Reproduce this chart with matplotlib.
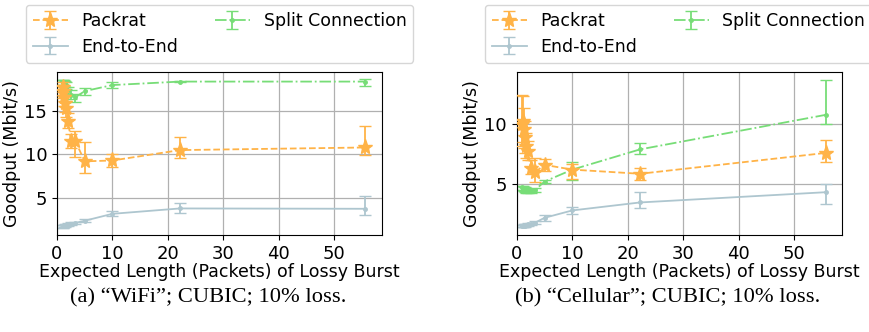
import numpy as np
import matplotlib
matplotlib.use("Agg")
import matplotlib.pyplot as plt

# expected burst length (packets)
burst = [1.0, 1.11, 1.25, 1.43, 1.67, 2.0, 2.5, 3.33, 5.0, 10.0, 22.2, 55.6]

# (a) WiFi
wifi_packrat = [17.8, 17.3, 16.6, 15.9, 15.3, 13.9, 11.6, 11.5, 9.2, 9.3, 10.5, 10.8]
wifi_packrat_lo = [17.2, 16.5, 15.6, 14.9, 14.3, 13.0, 10.7, 9.7, 7.85, 8.5, 9.6, 9.95]
wifi_packrat_hi = [18.3, 18.0, 17.5, 16.9, 16.2, 14.8, 12.4, 12.7, 11.4, 10.1, 12.0, 13.3]
wifi_e2e = [1.7, 1.7, 1.75, 1.8, 1.85, 1.9, 2.0, 2.1, 2.35, 3.15, 3.77, 3.73]
wifi_e2e_lo = [1.55, 1.55, 1.6, 1.65, 1.7, 1.75, 1.85, 1.95, 2.2, 2.85, 3.2, 3.0]
wifi_e2e_hi = [1.85, 1.85, 1.9, 1.95, 2.0, 2.05, 2.15, 2.25, 2.5, 3.46, 4.35, 5.2]
wifi_split = [18.4, 18.4, 18.3, 18.2, 18.0, 17.3, 16.9, 16.6, 17.3, 18.0, 18.4, 18.4]
wifi_split_lo = [18.0, 18.0, 17.9, 17.8, 17.5, 16.9, 16.4, 16.1, 16.9, 17.65, 18.3, 17.9]
wifi_split_hi = [18.6, 18.6, 18.6, 18.5, 18.4, 17.8, 17.4, 17.0, 17.65, 18.4, 18.5, 18.7]

# (b) Cellular
cell_packrat = [10.0, 10.3, 9.6, 8.9, 8.2, 7.8, 6.35, 6.0, 6.6, 6.2, 5.85, 7.6]
cell_packrat_lo = [8.2, 8.5, 8.0, 7.6, 7.2, 7.0, 5.8, 5.2, 6.1, 5.4, 5.3, 6.8]
cell_packrat_hi = [12.5, 12.4, 11.4, 10.3, 9.3, 8.6, 7.0, 7.2, 7.05, 6.7, 6.35, 8.7]
cell_e2e = [1.45, 1.45, 1.5, 1.5, 1.55, 1.6, 1.65, 1.75, 2.15, 2.77, 3.44, 4.3]
cell_e2e_lo = [1.35, 1.35, 1.4, 1.4, 1.45, 1.5, 1.55, 1.65, 1.87, 2.49, 3.0, 3.35]
cell_e2e_hi = [1.55, 1.55, 1.6, 1.6, 1.65, 1.7, 1.75, 1.85, 2.4, 3.05, 4.33, 5.0]
cell_split = [4.7, 4.65, 4.6, 4.5, 4.45, 4.4, 4.4, 4.5, 5.2, 6.2, 7.9, 10.8]
cell_split_lo = [4.5, 4.45, 4.4, 4.3, 4.25, 4.2, 4.25, 4.35, 5.05, 5.3, 7.5, 10.0]
cell_split_hi = [4.85, 4.8, 4.75, 4.7, 4.65, 4.6, 4.55, 4.65, 5.35, 6.8, 8.45, 13.7]

captions = ["(a) \u201cWiFi\u201d; CUBIC; 10% loss.", "(b) \u201cCellular\u201d; CUBIC; 10% loss."]

c_packrat = '#ffb347'
c_e2e = '#aec6cf'
c_split = '#77dd77'

FS = 12.5


def yerr(v, lo, hi):
    v = np.array(v)
    return [v - np.array(lo), np.array(hi) - v]


def draw(ax, packrat, e2e, split, ylim):
    h1 = ax.errorbar(burst, packrat[0], yerr=yerr(*packrat), color=c_packrat, ls='--',
                     marker='*', ms=11, lw=1.3, capsize=4, label='Packrat', zorder=3)
    h2 = ax.errorbar(burst, e2e[0], yerr=yerr(*e2e), color=c_e2e, ls='-',
                     marker='.', ms=5, lw=1.3, capsize=4, label='End-to-End', zorder=2)
    h3 = ax.errorbar(burst, split[0], yerr=yerr(*split), color=c_split, ls='-.',
                     marker='.', ms=5, lw=1.3, capsize=4, label='Split Connection', zorder=2)
    ax.set_xlim(0, 58.6)
    ax.set_ylim(*ylim)
    ax.set_xticks([0, 10, 20, 30, 40, 50])
    ax.grid(True, color='#b0b0b0', lw=0.9)
    ax.set_axisbelow(True)
    ax.tick_params(labelsize=13)
    ax.set_ylabel('Goodput (Mbit/s)', fontsize=FS, labelpad=2.5)
    ax.set_xlabel('Expected Length (Packets) of Lossy Burst', fontsize=FS, labelpad=0.5)
    return [h1, h2, h3]


fig = plt.figure(figsize=(8.7, 3.32), dpi=100)
ax1 = fig.add_axes([0.0655, 0.292, 0.3735, 0.491])
ax2 = fig.add_axes([0.594, 0.292, 0.374, 0.491])

hs = draw(ax1, (wifi_packrat, wifi_packrat_lo, wifi_packrat_hi),
          (wifi_e2e, wifi_e2e_lo, wifi_e2e_hi),
          (wifi_split, wifi_split_lo, wifi_split_hi), (0.7, 19.5))
ax1.set_yticks([5, 10, 15])
draw(ax2, (cell_packrat, cell_packrat_lo, cell_packrat_hi),
     (cell_e2e, cell_e2e_lo, cell_e2e_hi),
     (cell_split, cell_split_lo, cell_split_hi), (0.7, 14.4))
ax2.set_yticks([5, 10])

for x0 in [26 / 870, 485 / 870]:
    fig.legend(handles=hs, labels=[h.get_label() for h in hs], ncol=2, fontsize=FS,
               loc='upper left', bbox_to_anchor=(x0, 1 - 5 / 332),
               columnspacing=2.1, handlelength=2.0, handletextpad=0.8,
               borderaxespad=0, labelspacing=0.45)

fig.text(208 / 870, 1 - 298 / 332, captions[0], ha='center', va='center',
         family='Liberation Serif', fontsize=16.2)
fig.text(668 / 870, 1 - 298 / 332, captions[1], ha='center', va='center',
         family='Liberation Serif', fontsize=16.2)

fig.savefig('out.png', dpi=100)
